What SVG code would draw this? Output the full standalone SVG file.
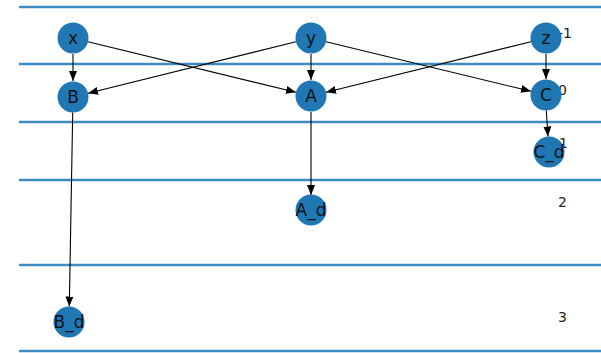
<svg xmlns="http://www.w3.org/2000/svg" width="601" height="353" viewBox="0 0 601 353">
  <style>
    .level { stroke: #3d8bc4; stroke-width: 2.5; }
    .node circle { fill: #1f77b4; }
    .node text { font-family: "DejaVu Sans", sans-serif; font-size: 17px; fill: #111; text-anchor: middle; }
    .edge { stroke: #000; stroke-width: 1.1; fill: none; marker-end: url(#arrow); }
    .tier { font-family: "DejaVu Sans", sans-serif; font-size: 14px; fill: #222; }
  </style>
  <defs>
    <marker id="arrow" markerUnits="userSpaceOnUse" markerWidth="11" markerHeight="9" refX="10" refY="4.5" orient="auto">
      <path d="M0,0.5 L10,4.5 L0,8.5 Z" fill="#000"/>
    </marker>
  </defs>
  <rect width="601" height="353" fill="#fff"/>

  <!-- horizontal tier separators -->
  <g id="levels">
    <line class="level" x1="19" y1="7" x2="601" y2="7"/>
    <line class="level" x1="19" y1="64" x2="601" y2="64"/>
    <line class="level" x1="19" y1="122" x2="601" y2="122"/>
    <line class="level" x1="19" y1="180" x2="601" y2="180"/>
    <line class="level" x1="19" y1="265" x2="601" y2="265"/>
    <line class="level" x1="19" y1="351" x2="601" y2="351"/>
  </g>

  <!-- tier numbers -->
  <g id="tier-labels">
    <text class="tier" x="558" y="38">-1</text>
    <text class="tier" x="558" y="95">0</text>
    <text class="tier" x="559" y="148">1</text>
    <text class="tier" x="558" y="207">2</text>
    <text class="tier" x="558" y="322">3</text>
  </g>

  <g id="edges">
    <line class="edge" x1="73" y1="54" x2="73" y2="81"/>
    <line class="edge" x1="88" y1="41.7" x2="296" y2="92.3"/>
    <line class="edge" x1="296" y1="41.7" x2="88" y2="93.3"/>
    <line class="edge" x1="311" y1="54" x2="311" y2="80"/>
    <line class="edge" x1="326" y1="41.7" x2="531" y2="91.3"/>
    <line class="edge" x1="531" y1="41.7" x2="326" y2="92.3"/>
    <line class="edge" x1="546" y1="54" x2="546" y2="79"/>
    <line class="edge" x1="546.3" y1="110.5" x2="548" y2="136.5"/>
    <line class="edge" x1="311" y1="112" x2="311" y2="195"/>
    <line class="edge" x1="72.7" y1="112.5" x2="69.3" y2="306.5"/>
  </g>

  <g id="node-x" class="node"><circle cx="73" cy="38" r="15.5"/><text x="73" y="44">x</text></g>
  <g id="node-y" class="node"><circle cx="311" cy="38" r="15.5"/><text x="311" y="44">y</text></g>
  <g id="node-z" class="node"><circle cx="546" cy="38" r="15.5"/><text x="546" y="44">z</text></g>
  <g id="node-B" class="node"><circle cx="73" cy="97" r="15.5"/><text x="73" y="103">B</text></g>
  <g id="node-A" class="node"><circle cx="311" cy="96" r="15.5"/><text x="311" y="102">A</text></g>
  <g id="node-C" class="node"><circle cx="546" cy="95" r="15.5"/><text x="546" y="101">C</text></g>
  <g id="node-C_d" class="node"><circle cx="549" cy="152" r="15.5"/><text x="549" y="158">C_d</text></g>
  <g id="node-A_d" class="node"><circle cx="311" cy="210" r="15.5"/><text x="311" y="216">A_d</text></g>
  <g id="node-B_d" class="node"><circle cx="69" cy="322" r="15.5"/><text x="69" y="328">B_d</text></g>
</svg>
